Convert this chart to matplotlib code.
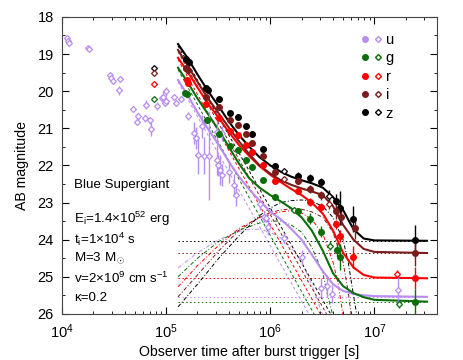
import matplotlib
matplotlib.use("Agg")
import matplotlib.pyplot as plt
from matplotlib.lines import Line2D
from matplotlib.legend_handler import HandlerTuple

plt.rcParams['font.family'] = ['Liberation Sans', 'DejaVu Sans']
plt.rcParams['mathtext.fontset'] = 'custom'
plt.rcParams['mathtext.rm'] = 'Liberation Sans'
plt.rcParams['mathtext.it'] = 'Liberation Sans'

bands = ["u", "g", "r", "i", "z"]
colors = {"u": "#b98cf0", "g": "#0a6e0a", "r": "#ff0000", "i": "#7a1c1c", "z": "#000000"}

# ---- model curves ----
model_t = [1.3e5, 1.6e5, 2.0e5, 2.5e5, 3.2e5, 4.0e5, 5.0e5, 6.3e5, 7.9e5, 1.0e6, 1.26e6,
           1.58e6, 2.0e6, 2.5e6, 3.2e6, 4.0e6, 5.0e6, 6.3e6, 7.9e6, 1.0e7, 3.2e7]
total = {
    "z": [18.73, 19.1, 19.55, 19.98, 20.41, 20.82, 21.18, 21.5, 21.78, 22.0, 22.17,
          22.3, 22.4, 22.48, 22.6, 22.85, 23.2, 23.72, 23.97, 24.02, 24.03],
    "i": [18.89, 19.3, 19.75, 20.18, 20.6, 20.98, 21.35, 21.7, 22.0, 22.22, 22.4,
          22.52, 22.62, 22.7, 22.8, 23.1, 23.6, 24.0, 24.25, 24.33, 24.36],
    "r": [19.1, 19.47, 19.9, 20.32, 20.72, 21.1, 21.45, 21.75, 22.02, 22.25, 22.45,
          22.63, 22.8, 23.0, 23.3, 23.75, 24.35, 24.75, 24.95, 25.02, 25.04],
    "g": [19.37, 19.75, 20.2, 20.6, 21.05, 21.5, 21.95, 22.35, 22.6, 22.8, 22.97,
          23.15, 23.4, 23.75, 24.3, 24.9, 25.25, 25.44, 25.55, 25.62, 25.67],
    "u": [19.7, 20.1, 20.57, 21.0, 21.45, 21.9, 22.3, 22.65, 22.95, 23.25, 23.45,
          23.7, 24.0, 24.4, 24.85, 25.2, 25.38, 25.46, 25.5, 25.52, 25.54],
}

# afterglow power laws (dashed): start and end points
ag_t = {"u": [1.3e5, 2.34e6], "g": [1.3e5, 2.63e6], "r": [1.3e5, 3.02e6],
        "i": [1.3e5, 3.47e6], "z": [1.3e5, 3.8e6]}
ag_m = {"u": [19.75, 26.0], "g": [19.42, 26.0], "r": [19.15, 26.0],
        "i": [18.94, 26.0], "z": [18.78, 26.0]}

# supernova-like bump (dash-dot)
sn_t = {
    "z": [1.3e5, 2.0e5, 3.2e5, 5.0e5, 7.9e5, 1.0e6, 1.26e6, 1.58e6, 2.0e6, 2.5e6, 3.2e6,
          4.0e6, 5.0e6, 5.6e6, 6.3e6, 6.8e6],
    "i": [1.3e5, 2.0e5, 3.2e5, 5.0e5, 7.9e5, 1.0e6, 1.26e6, 1.58e6, 2.0e6, 2.5e6, 3.2e6,
          4.0e6, 5.0e6, 5.6e6, 6.0e6],
    "r": [1.3e5, 2.0e5, 3.2e5, 5.0e5, 7.9e5, 1.26e6, 1.58e6, 2.0e6, 2.5e6, 3.2e6,
          4.0e6, 4.5e6, 5.0e6],
    "g": [1.3e5, 2.0e5, 3.2e5, 5.0e5, 7.9e5, 1.0e6, 1.26e6, 1.58e6, 2.0e6, 2.5e6,
          3.2e6, 3.55e6, 4.0e6],
    "u": [1.3e5, 2.0e5, 3.2e5, 5.0e5, 6.3e5, 7.9e5, 1.0e6, 1.26e6, 1.58e6, 2.0e6,
          2.5e6, 3.2e6],
}
sn_m = {
    "z": [25.81, 25.2, 24.5, 23.9, 23.35, 23.15, 23.0, 22.95, 22.93, 22.97, 23.1,
          23.4, 24.0, 24.6, 25.5, 26.05],
    "i": [25.54, 24.95, 24.3, 23.75, 23.4, 23.27, 23.2, 23.17, 23.18, 23.25, 23.4,
          23.8, 24.6, 25.4, 26.05],
    "r": [25.27, 24.7, 24.15, 23.7, 23.4, 23.25, 23.22, 23.28, 23.45, 23.85,
          24.6, 25.2, 26.05],
    "g": [25.0, 24.5, 24.05, 23.75, 23.55, 23.5, 23.5, 23.6, 23.8, 24.2,
          24.9, 25.5, 26.05],
    "u": [24.76, 24.35, 24.0, 23.78, 23.72, 23.72, 23.8, 23.95, 24.2, 24.6,
          25.2, 26.05],
}

# host galaxy levels (dotted)
host_t = [1.3e5, 3.2e7]
host_m = {"z": 24.03, "i": 24.36, "r": 25.04, "u": 25.54, "g": 25.67}

# ---- photometry ----
u_t = [1.11e4, 1.135e4, 1.17e4, 1.77e4, 1.83e4, 2.88e4, 2.95e4, 3.09e4, 3.63e4, 3.55e4,
       4.79e4, 5.37e4, 5.25e4, 6.46e4, 6.3e4, 6.92e4, 7.08e4, 8.13e4, 9.12e4, 9.33e4,
       9.77e4, 1.0e5, 1.0e5, 1.2e5, 1.23e5, 1.38e5, 1.62e5, 1.86e5, 1.95e5, 2.19e5,
       2.04e5, 2.29e5, 2.57e5, 3.09e5, 3.47e5, 3.09e5, 3.16e5, 3.31e5, 3.47e5, 3.98e5,
       4.47e5, 4.68e5, 7.94e5, 8.71e5, 9.12e5, 9.55e5, 1.35e6, 2.0e6, 3.09e6, 3.47e6,
       3.89e6, 1.7e7]
u_m = [18.57, 18.64, 18.69, 18.83, 18.87, 19.56, 19.65, 19.72, 19.67, 19.97,
       20.48, 20.68, 20.82, 20.37, 20.73, 20.79, 21.02, 20.40, 20.19, 20.15,
       20.31, 20.0, 20.27, 20.17, 20.31, 20.22, 20.67, 21.13, 21.27, 20.95,
       21.72, 21.74, 21.74, 21.09, 21.13, 21.85, 21.99, 22.12, 22.26, 22.18,
       22.52, 22.79, 23.05, 23.38, 23.42, 23.67, 23.96, 24.48, 25.29, 25.24,
       25.46, 25.35]
u_e = [0.04, 0.04, 0.04, 0.04, 0.04, 0.05, 0.05, 0.05, 0.06, 0.12,
       0.06, 0.1, 0.1, 0.12, 0.1, 0.1, 0.2, 0.1, 0.1, 0.15,
       0.1, 0.12, 0.1, 0.08, 0.08, 0.08, 0.1, 0.3, 0.3, 0.3,
       0.5, 0.5, 1.2, 0.3, 0.2, 0.4, 0.3, 0.4, 0.3, 0.3,
       0.3, 0.3, 0.15, 0.15, 0.1, 0.2, 0.15, 0.2, 0.25, 0.3,
       0.25, 0.35]

z_t = [1.55e5, 1.65e5, 2.43e5, 2.5e5, 3.24e5, 4.12e5, 4.95e5, 5.89e5, 6.61e5, 8.51e5,
       1.1e6, 1.86e6, 2.4e6, 3.09e6, 4.27e6, 4.68e6, 6.3e6, 2.45e7]
z_m = [19.14, 19.22, 19.92, 19.97, 20.22, 20.59, 20.70, 20.94, 21.16, 21.56,
       22.02, 22.28, 22.35, 22.44, 22.97, 23.15, 23.45, 24.01]
z_e = [0.03, 0.03, 0.03, 0.03, 0.04, 0.04, 0.04, 0.05, 0.05, 0.06,
       0.06, 0.1, 0.12, 0.1, 0.2, 0.45, 0.35, 0.4]

i_t = [1.55e5, 1.62e5, 2.43e5, 3.24e5, 4.12e5, 4.95e5, 5.89e5, 6.61e5, 8.51e5, 1.1e6,
       1.86e6, 2.4e6, 3.09e6, 4.27e6, 4.79e6, 6.46e6, 2.45e7]
i_m = [19.38, 19.42, 20.15, 20.43, 20.79, 20.91, 21.15, 21.40, 21.74, 22.19,
       22.41, 22.63, 22.81, 23.24, 23.40, 23.68, 24.35]
i_e = [0.03, 0.03, 0.03, 0.04, 0.04, 0.04, 0.05, 0.05, 0.06, 0.06,
       0.1, 0.1, 0.12, 0.2, 0.2, 0.3, 0.35]

r_t = [1.58e5, 1.63e5, 2.43e5, 3.24e5, 4.12e5, 4.95e5, 5.89e5, 6.61e5, 8.51e5, 1.1e6,
       1.86e6, 2.4e6, 3.09e6, 4.27e6, 4.68e6, 6.3e6, 2.45e7]
r_m = [19.70, 19.78, 20.34, 20.73, 21.06, 21.18, 21.45, 21.65, 22.0, 22.41,
       22.68, 22.99, 23.11, 23.58, 23.90, 24.46, 25.04]
r_e = [0.03, 0.03, 0.03, 0.04, 0.04, 0.04, 0.05, 0.05, 0.06, 0.06,
       0.08, 0.1, 0.1, 0.12, 0.15, 0.3, 0.3]

g_t = [1.51e5, 1.6e5, 2.45e5, 3.24e5, 4.12e5, 4.95e5, 5.89e5, 6.61e5, 8.51e5, 1.1e6,
       1.86e6, 2.4e6, 3.09e6, 4.37e6, 4.68e6, 2.45e7]
g_m = [20.04, 20.08, 20.79, 21.15, 21.49, 21.58, 21.85, 22.03, 22.39, 22.86,
       23.24, 23.44, 23.78, 24.28, 24.46, 25.67]
g_e = [0.03, 0.03, 0.04, 0.04, 0.05, 0.05, 0.05, 0.06, 0.06, 0.08,
       0.1, 0.15, 0.15, 0.2, 0.35, 0.35]

# open diamonds (other instruments)
zo_t = [7.59e4, 1.35e6, 3.63e6]
zo_m = [19.38, 22.15, 22.82]
zo_e = [0.04, 0.06, 0.15]
io_t = [7.59e4, 1.35e6, 3.63e6]
io_m = [19.52, 22.36, 23.05]
io_e = [0.04, 0.06, 0.12]
ro_t = [7.59e4, 1.66e7]
ro_m = [19.81, 24.92]
ro_e = [0.04, 0.1]
go_t = [7.59e4, 1.7e6, 3.72e6, 1.74e7]
go_m = [20.22, 23.2, 24.16, 25.73]
go_e = [0.04, 0.08, 0.12, 0.1]

filled = {"z": (z_t, z_m, z_e), "i": (i_t, i_m, i_e), "r": (r_t, r_m, r_e), "g": (g_t, g_m, g_e)}
opened = {"u": (u_t, u_m, u_e), "z": (zo_t, zo_m, zo_e), "i": (io_t, io_m, io_e),
          "r": (ro_t, ro_m, ro_e), "g": (go_t, go_m, go_e)}

fig = plt.figure(figsize=(4.63, 3.6), dpi=100)
ax = fig.add_axes([0.134, 0.128, 0.81, 0.825])

for b in bands:
    c = colors[b]
    ax.plot(host_t, [host_m[b], host_m[b]], ls=(0, (1.5, 2.5)), lw=0.7, color=c)
    ax.plot(ag_t[b], ag_m[b], ls=(0, (3, 2.5)), lw=0.7, color=c)
    ax.plot(sn_t[b], sn_m[b], ls=(0, (4, 2, 1, 2)), lw=0.7, color=c)
for b in ["u", "g", "r", "i", "z"]:
    ax.plot(model_t, total[b], '-', lw=1.5, color=colors[b])

for b, (t, m, e) in opened.items():
    ax.errorbar(t, m, yerr=e, fmt='D', ms=3, mfc='white', mec=colors[b], mew=0.9,
                ecolor=colors[b], elinewidth=1.0, capsize=0, zorder=4)
for b, (t, m, e) in filled.items():
    ax.errorbar(t, m, yerr=e, fmt='o', ms=4, mfc=colors[b], mec=colors[b],
                ecolor=colors[b], elinewidth=1.0, capsize=0, zorder=5)

ax.set_xscale('log')
ax.set_xlim(1e4, 4e7)
ax.set_ylim(26, 18)
ax.set_yticks([18, 19, 20, 21, 22, 23, 24, 25, 26])
ax.set_yticks([18.5, 19.5, 20.5, 21.5, 22.5, 23.5, 24.5, 25.5], minor=True)
ax.tick_params(which='both', direction='in', top=True, right=True, labelsize=10.5, pad=6)
ax.tick_params(which='major', length=5)
ax.tick_params(which='minor', length=2.5)
for s in ax.spines.values():
    s.set_color('#444444')
ax.set_xlabel("Observer time after burst trigger [s]", fontsize=10.2, labelpad=3)
ax.set_ylabel("AB magnitude", fontsize=10.2, labelpad=6)

handles = []
for b in bands:
    h1 = Line2D([], [], marker='o', ls='none', ms=4, color=colors[b])
    h2 = Line2D([], [], marker='D', ls='none', ms=3, mfc='white', mec=colors[b], mew=1.0)
    handles.append((h1, h2))
ax.legend(handles, bands, handler_map={tuple: HandlerTuple(ndivide=None, pad=0.4)},
          loc='upper right', bbox_to_anchor=(0.92, 0.99), frameon=False, fontsize=10.5,
          handlelength=1.4, handletextpad=0.3, labelspacing=0.3)

fs = 9.6
ax.text(1.3e4, 22.53, "Blue Supergiant", fontsize=fs, va='center')
ax.text(1.3e4, 23.45, r"E$_\mathregular{i}$=1.4$\times$10$^\mathregular{52}$ erg", fontsize=fs, va='center')
ax.text(1.3e4, 23.98, r"t$_\mathregular{i}$=1$\times$10$^\mathregular{4}$ s", fontsize=fs, va='center')
ax.text(1.3e4, 24.5, r"M=3 M$_\odot$", fontsize=fs, va='center')
ax.text(1.3e4, 25.03, r"v=2$\times$10$^\mathregular{9}$ cm s$^\mathregular{-1}$", fontsize=fs, va='center')
ax.text(1.3e4, 25.56, "κ=0.2", fontsize=fs, va='center')

fig.savefig("out.png", dpi=100)
